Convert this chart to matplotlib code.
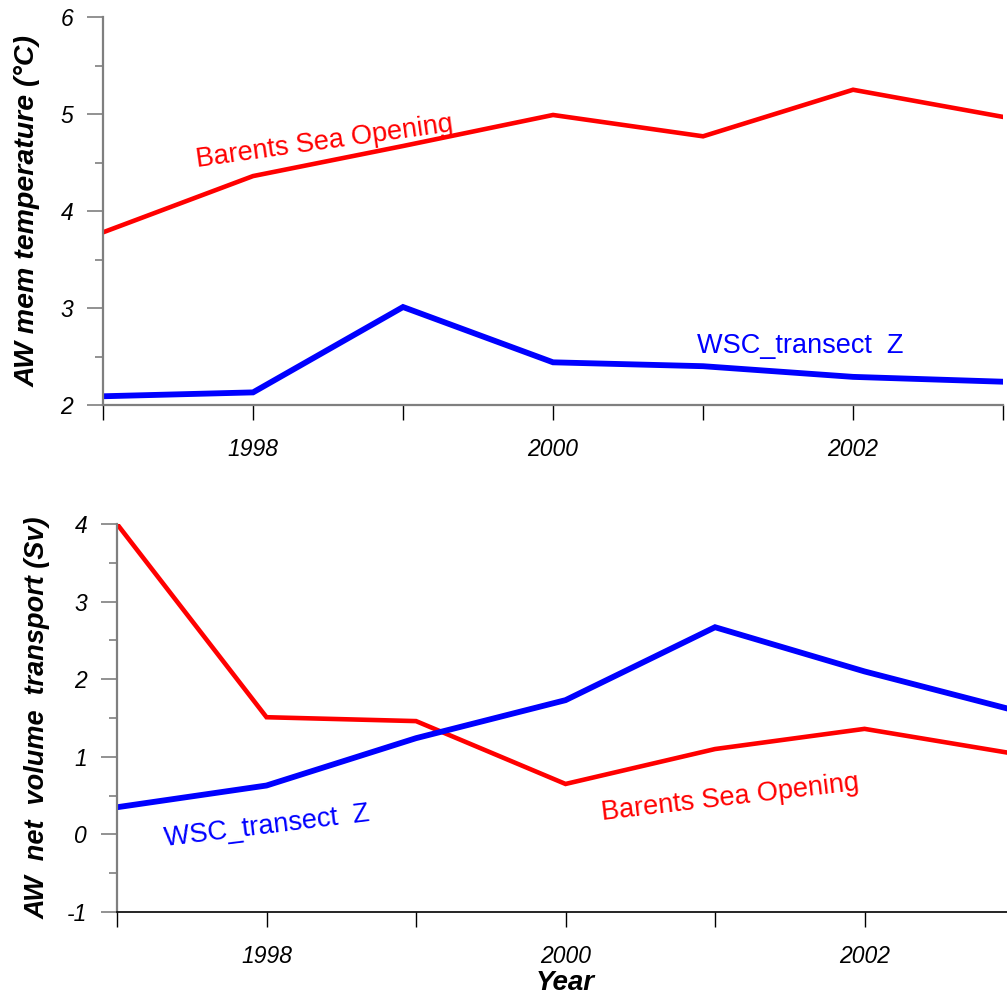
import numpy as np
import matplotlib
matplotlib.use("Agg")
import matplotlib.pyplot as plt
from matplotlib.ticker import MultipleLocator, FixedLocator

plt.rcParams['font.family'] = ['Liberation Sans', 'DejaVu Sans']
plt.rcParams['axes.unicode_minus'] = False

# data
years = [1997, 1998, 1999, 2000, 2001, 2002, 2003]
xtick_labels = ["", "1998", "", "2000", "", "2002", ""]

temp_bso = [3.78, 4.36, 4.67, 4.99, 4.77, 5.25, 4.97]
temp_wsc = [2.09, 2.13, 3.01, 2.44, 2.40, 2.29, 2.24]

trans_bso = [4.00, 1.51, 1.46, 0.65, 1.10, 1.36, 1.04]
trans_wsc = [0.35, 0.63, 1.24, 1.73, 2.67, 2.10, 1.60]

RED = "#ff0000"
BLUE = "#0000ff"
GRAY = "#7f7f7f"

fig = plt.figure(figsize=(10.07, 10.0), dpi=100)

# =========================
# top panel: temperature
# =========================
ax1 = fig.add_axes([0.1023, 0.595, 0.8938, 0.388])
ax1.plot(years, temp_bso, color=RED, lw=3.3, solid_joinstyle="miter")
ax1.plot(years, temp_wsc, color=BLUE, lw=4.2, solid_joinstyle="miter")
ax1.set_xlim(1997, 2003)
ax1.set_ylim(2, 6)

ax1.text(1997.627, 4.454, "Barents Sea Opening", color=RED, fontsize=19.5,
         rotation=8, rotation_mode="anchor", ha="left", va="baseline")
ax1.text(2000.96, 2.536, "WSC_transect  Z", color=BLUE, fontsize=19.5,
         ha="left", va="baseline")

ax1.set_ylabel("AW mem temperature (°C)", fontsize=20.5, fontweight="bold",
               fontstyle="italic", labelpad=14)

# =========================
# bottom panel: transport
# =========================
ax2 = fig.add_axes([0.1162, 0.088, 0.8908, 0.388])
ax2.plot(years, trans_bso, color=RED, lw=3.3, solid_joinstyle="miter")
ax2.plot(years, trans_wsc, color=BLUE, lw=4.2, solid_joinstyle="miter")
ax2.set_xlim(1997, 2003)
ax2.set_ylim(-1, 4)

ax2.text(1997.321, -0.156, "WSC_transect  Z", color=BLUE, fontsize=19.5,
         rotation=7, rotation_mode="anchor", ha="left", va="baseline")
ax2.text(2000.244, 0.188, "Barents Sea Opening", color=RED, fontsize=19.5,
         rotation=6.7, rotation_mode="anchor", ha="left", va="baseline")

ax2.set_ylabel("AW  net  volume  transport (Sv)", fontsize=19.5,
               fontweight="bold", fontstyle="italic", labelpad=12)
ax2.set_xlabel("Year", fontsize=20, fontweight="bold", fontstyle="italic",
               labelpad=1)

# =========================
# axes styling
# =========================
for ax, xcol in ((ax1, GRAY), (ax2, "black")):
    for s in ("top", "right"):
        ax.spines[s].set_visible(False)
    ax.spines["left"].set_color(GRAY)
    ax.spines["left"].set_linewidth(1.6)
    ax.spines["bottom"].set_color(xcol)
    ax.spines["bottom"].set_linewidth(1.6 if ax is ax1 else 1.2)

    ax.xaxis.set_major_locator(FixedLocator(years))
    ax.set_xticklabels(xtick_labels)
    ax.tick_params(axis="x", which="major", direction="out", length=11,
                   width=1.0, color="black", pad=13, labelsize=16.5)
    ax.yaxis.set_major_locator(MultipleLocator(1))
    ax.yaxis.set_minor_locator(MultipleLocator(0.5))
    ax.tick_params(axis="y", which="major", direction="out", length=11.5,
                   width=1.2, color=GRAY, pad=10, labelsize=16.5)
    ax.tick_params(axis="y", which="minor", direction="out", length=6,
                   width=1.2, color=GRAY)
    for lab in ax.get_xticklabels() + ax.get_yticklabels():
        lab.set_fontstyle("italic")

fig.savefig("out.png", dpi=100)
